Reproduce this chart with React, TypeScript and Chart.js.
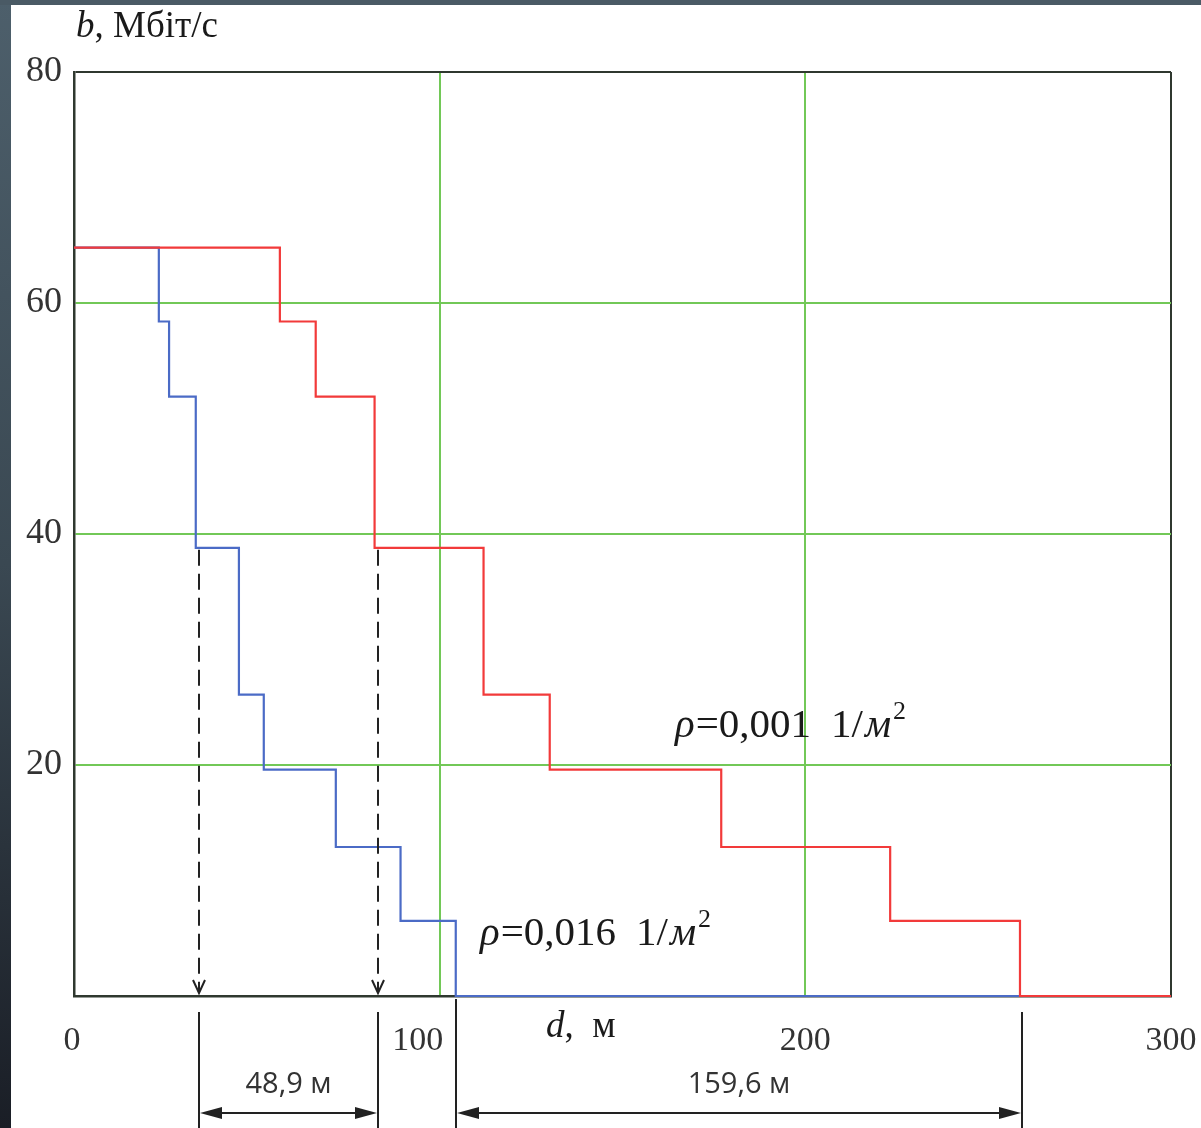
import React, { useEffect, useRef } from 'react';
import { Chart, registerables } from 'chart.js';

Chart.register(...registerables);

// Bit-rate levels (Мбіт/с) of the successive steps
const levels = [64.8, 58.4, 51.9, 38.8, 26.1, 19.6, 12.9, 6.5, 0, 0];
// Distances (m) at which each level starts, ρ = 0,001 1/м² (red)
const stepsLowDensity = [0, 56.3, 66.1, 82.2, 112.0, 130.1, 177.0, 223.2, 258.7, 300];
// Distances (m) at which each level starts, ρ = 0,016 1/м² (blue)
const stepsHighDensity = [0, 23.2, 26.0, 33.3, 45.1, 51.9, 71.6, 89.3, 104.4, 300];

const xTicks = [0, 100, 200, 300];
const yTicks = [0, 20, 40, 60, 80];
const yTickLabels = ['', '20', '40', '60', '80'];

// Dashed projection lines (at level 38,8) and dimension lines
const markerLevel = 38.8;
const markerX = [34.1, 83.0];
const rangeX = [104.4, 259.3];
const dimLabels = ['48,9 м', '159,6 м'];
const seriesLabels = ['0,001', '0,016'];

const RED = '#f23a3a';
const BLUE = '#4b6bc6';
const GREEN = '#72c857';
const FRAME = '#2f382f';
const INK = '#222222';

export default function App() {
  const ref = useRef<HTMLCanvasElement>(null);

  useEffect(() => {
    const canvas = ref.current!;

    const drawArrowHead = (ctx: CanvasRenderingContext2D, tipX: number, tipY: number, dir: number) => {
      ctx.beginPath();
      ctx.moveTo(tipX, tipY);
      ctx.lineTo(tipX - dir * 22, tipY - 6);
      ctx.lineTo(tipX - dir * 22, tipY + 6);
      ctx.closePath();
      ctx.fill();
    };

    const drawRho = (ctx: CanvasRenderingContext2D, x: number, y: number, val: string) => {
      let cx = x;
      ctx.textAlign = 'left';
      ctx.textBaseline = 'alphabetic';
      ctx.fillStyle = '#1a1a1a';
      ctx.font = 'italic 41px "Liberation Serif"';
      ctx.fillText('ρ', cx, y);
      cx += ctx.measureText('ρ').width + 1;
      ctx.font = '41px "Liberation Serif"';
      ctx.fillText('=', cx, y);
      cx += ctx.measureText('=').width;
      ctx.fillText(val, cx, y);
      cx += ctx.measureText(val).width + 20;
      ctx.fillText('1/', cx, y);
      cx += ctx.measureText('1/').width + 2;
      ctx.font = 'italic 41px "Liberation Serif"';
      ctx.fillText('м', cx, y);
      cx += ctx.measureText('м').width;
      ctx.font = '26px "Liberation Serif"';
      ctx.fillText('2', cx + 2, y - 18);
    };

    const overlay = {
      id: 'overlay',
      beforeDraw(chart: any) {
        const ctx: CanvasRenderingContext2D = chart.ctx;
        const w = chart.width;
        const h = chart.height;
        ctx.save();
        ctx.fillStyle = '#ffffff';
        ctx.fillRect(0, 0, w, h);
        const g = ctx.createLinearGradient(0, 0, 0, h);
        g.addColorStop(0, '#4d5f6b');
        g.addColorStop(0.5, '#3a4852');
        g.addColorStop(1, '#1a1e26');
        ctx.fillStyle = g;
        ctx.fillRect(0, 0, 11, h);
        ctx.fillStyle = '#4a5a65';
        ctx.fillRect(0, 0, w, 5);
        ctx.restore();
      },
      afterDatasetsDraw(chart: any) {
        const ctx: CanvasRenderingContext2D = chart.ctx;
        const xs = chart.scales.x;
        const ys = chart.scales.y;
        const y0 = ys.getPixelForValue(0);
        const yl = ys.getPixelForValue(markerLevel);
        ctx.save();
        ctx.strokeStyle = INK;
        ctx.fillStyle = INK;
        ctx.lineWidth = 2;
        // dashed projection lines with open arrowheads
        markerX.forEach((v) => {
          const px = Math.round(xs.getPixelForValue(v));
          ctx.setLineDash([16, 8]);
          ctx.beginPath();
          ctx.moveTo(px, yl + 2);
          ctx.lineTo(px, y0 - 3);
          ctx.stroke();
          ctx.setLineDash([]);
          ctx.beginPath();
          ctx.moveTo(px - 6, y0 - 16);
          ctx.lineTo(px, y0 - 3);
          ctx.lineTo(px + 6, y0 - 16);
          ctx.stroke();
        });
        ctx.restore();
      },
      afterDraw(chart: any) {
        const ctx: CanvasRenderingContext2D = chart.ctx;
        const xs = chart.scales.x;
        const ys = chart.scales.y;
        const y0 = ys.getPixelForValue(0);
        const h = chart.height;
        ctx.save();

        // axis title (y)
        ctx.fillStyle = '#1a1a1a';
        ctx.textBaseline = 'alphabetic';
        ctx.textAlign = 'left';
        ctx.font = 'italic 37px "Liberation Serif"';
        ctx.fillText('b', 76, 37);
        let tx = 76 + ctx.measureText('b').width;
        ctx.font = '37px "Liberation Serif"';
        ctx.fillText(', Мбіт/с', tx, 37);

        // y tick labels
        ctx.fillStyle = '#333333';
        ctx.font = '36px "Liberation Serif"';
        ctx.textAlign = 'right';
        ctx.textBaseline = 'middle';
        yTicks.forEach((v, i) => {
          if (yTickLabels[i]) ctx.fillText(yTickLabels[i], 62, ys.getPixelForValue(v));
        });

        // x tick labels
        ctx.font = '34px "Liberation Serif"';
        ctx.textAlign = 'center';
        xTicks.forEach((v) => {
          const off = v === 0 ? -2 : v === 100 ? -22 : 0;
          ctx.fillText(String(v), xs.getPixelForValue(v) + off, y0 + 45);
        });

        // axis title (x)
        ctx.fillStyle = '#1a1a1a';
        ctx.textAlign = 'left';
        ctx.textBaseline = 'alphabetic';
        ctx.font = 'italic 37px "Liberation Serif"';
        ctx.fillText('d', 546, 1037);
        tx = 546 + ctx.measureText('d').width;
        ctx.font = '37px "Liberation Serif"';
        ctx.fillText(',  м', tx, 1037);

        // series labels
        drawRho(ctx, 675, 737, seriesLabels[0]);
        drawRho(ctx, 480, 945, seriesLabels[1]);

        // dimension lines
        ctx.strokeStyle = INK;
        ctx.fillStyle = INK;
        ctx.lineWidth = 2;
        const a1 = Math.round(xs.getPixelForValue(markerX[0]));
        const a2 = Math.round(xs.getPixelForValue(markerX[1]));
        const b1 = Math.round(xs.getPixelForValue(rangeX[0]));
        const b2 = Math.round(xs.getPixelForValue(rangeX[1]));
        const vlines: [number, number][] = [[a1, y0 + 16], [a2, y0 + 16], [b1, y0 + 3], [b2, y0 + 16]];
        vlines.forEach(([x, top]) => {
          ctx.beginPath();
          ctx.moveTo(x, top);
          ctx.lineTo(x, h);
          ctx.stroke();
        });
        const ay = 1113;
        [[a1, a2], [b1, b2]].forEach(([l, r]) => {
          ctx.beginPath();
          ctx.moveTo(l + 10, ay);
          ctx.lineTo(r - 10, ay);
          ctx.stroke();
          drawArrowHead(ctx, l + 1, ay, -1);
          drawArrowHead(ctx, r - 1, ay, 1);
        });
        ctx.fillStyle = '#333333';
        ctx.font = '29px "Open Sans"';
        ctx.textAlign = 'center';
        ctx.textBaseline = 'middle';
        ctx.fillText(dimLabels[0], (a1 + a2) / 2, 1085);
        ctx.fillText(dimLabels[1], (b1 + b2) / 2, 1085);

        ctx.restore();
      },
    };

    const chart = new Chart(canvas, {
      type: 'line',
      data: {
        datasets: [
          {
            label: 'ρ=0,001 1/м²',
            data: stepsLowDensity.map((x, i) => ({ x, y: levels[i] })),
            borderColor: RED,
            borderWidth: 2.2,
            pointRadius: 0,
            stepped: true,
            fill: false,
            clip: false,
          },
          {
            label: 'ρ=0,016 1/м²',
            data: stepsHighDensity.map((x, i) => ({ x, y: levels[i] })),
            borderColor: BLUE,
            borderWidth: 2.2,
            pointRadius: 0,
            stepped: true,
            fill: false,
            clip: false,
          },
        ],
      },
      options: {
        responsive: false,
        animation: false,
        devicePixelRatio: 1,
        layout: { padding: { left: 74, top: 72, right: 30, bottom: 132 } },
        plugins: { legend: { display: false }, tooltip: { enabled: false } },
        scales: {
          x: {
            type: 'linear',
            min: 0,
            max: 300,
            afterFit: (s: any) => { s.height = 0; },
            afterBuildTicks: (s: any) => { s.ticks = xTicks.map((v) => ({ value: v })); },
            ticks: { display: false },
            grid: {
              drawTicks: false,
              lineWidth: 2,
              color: (c: any) => (c.tick && (c.tick.value === 0 || c.tick.value === 300) ? FRAME : GREEN),
            },
            border: { display: true, color: FRAME, width: 2.5 },
          },
          y: {
            type: 'linear',
            min: 0,
            max: 80,
            afterFit: (s: any) => { s.width = 0; },
            afterBuildTicks: (s: any) => { s.ticks = yTicks.map((v) => ({ value: v })); },
            ticks: { display: false },
            grid: {
              drawTicks: false,
              lineWidth: 2,
              color: (c: any) => (c.tick && (c.tick.value === 0 || c.tick.value === 80) ? FRAME : GREEN),
            },
            border: { display: true, color: FRAME, width: 2.5 },
          },
        },
      },
      plugins: [overlay],
    } as any);

    return () => chart.destroy();
  }, []);

  return (
    <div style={{ position: 'absolute', left: 0, top: 0, width: 1201, height: 1128 }}>
      <canvas ref={ref} width={1201} height={1128} style={{ display: 'block', width: 1201, height: 1128 }} />
    </div>
  );
}
